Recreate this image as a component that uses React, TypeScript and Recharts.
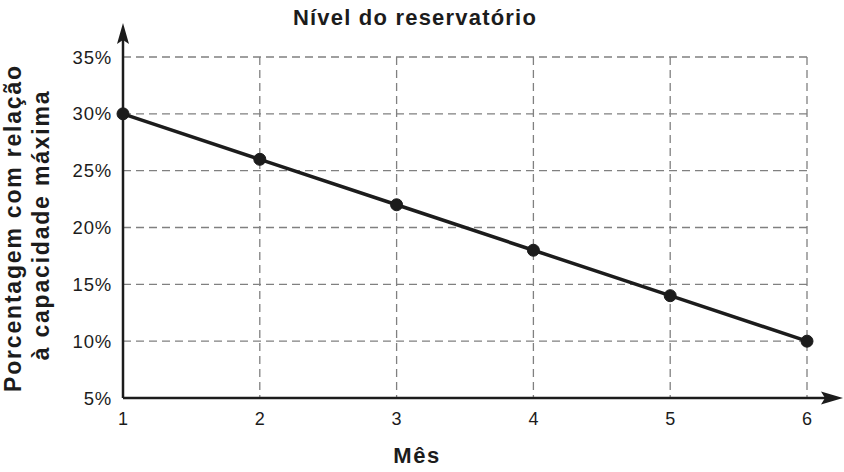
import { LineChart, Line, XAxis, YAxis, CartesianGrid } from 'recharts';

const meses = [1, 2, 3, 4, 5, 6];
const nivel = [30, 26, 22, 18, 14, 10];
const yTicks = [5, 10, 15, 20, 25, 30, 35];

const data = meses.map((mes, i) => ({ mes, nivel: nivel[i] }));

const FONT = '"Liberation Sans", Arial, Helvetica, sans-serif';
const INK = '#1c1c1c';

export default function App() {
  return (
    <div style={{ position: 'absolute', left: 0, top: 0, width: 844, height: 472, background: '#fff', fontFamily: FONT }}>
      <LineChart width={844} height={472} data={data} margin={{ top: 57, right: 37, left: 63, bottom: 44 }}>
        <CartesianGrid stroke="#808080" strokeWidth={1.3} strokeDasharray="8 5" ticks={yTicks} />
        <XAxis
          dataKey="mes"
          type="number"
          domain={[1, 6]}
          ticks={meses}
          height={30}
          tickLine={false}
          axisLine={{ stroke: INK, strokeWidth: 2.5 }}
          tick={{ fontSize: 18, fill: INK, fontFamily: FONT }}
          tickMargin={8}
        />
        <YAxis
          type="number"
          domain={[5, 35]}
          ticks={yTicks}
          width={60}
          tickLine={false}
          axisLine={{ stroke: INK, strokeWidth: 2.5 }}
          tick={{ fontSize: 18.5, fill: INK, fontFamily: FONT, letterSpacing: 0.8 }}
          tickMargin={5}
          tickFormatter={(v) => `${v}%`}
          interval={0}
        />
        <Line
          dataKey="nivel"
          type="linear"
          stroke={INK}
          strokeWidth={3.5}
          dot={{ r: 6, fill: INK, stroke: INK, strokeWidth: 1 }}
          isAnimationActive={false}
        />
      </LineChart>
      <svg width={844} height={472} style={{ position: 'absolute', left: 0, top: 0, pointerEvents: 'none' }}>
        {/* axis extensions with arrow heads */}
        <line x1={123} y1={57} x2={123} y2={40} stroke={INK} strokeWidth={2.5} />
        <polygon points="123,23 117,44 123,40 129,44" fill={INK} />
        <line x1={807} y1={398} x2={825} y2={398} stroke={INK} strokeWidth={2.5} />
        <polygon points="843,398 821,391.5 825,398 821,404.5" fill={INK} />
        <text x={415} y={25} textAnchor="middle" fontSize={22} fontWeight="bold" letterSpacing={1.2} fill={INK} fontFamily={FONT}>
          Nível do reservatório
        </text>
        <text x={417} y={463} textAnchor="middle" fontSize={22} fontWeight="bold" letterSpacing={1.5} fill={INK} fontFamily={FONT}>
          Mês
        </text>
        <text
          transform="translate(21,228) rotate(-90)"
          textAnchor="middle"
          fontSize={23}
          fontWeight="bold"
          letterSpacing={1.8}
          fill={INK}
          fontFamily={FONT}
        >
          Porcentagem com relação
        </text>
        <text
          transform="translate(48.5,225) rotate(-90)"
          textAnchor="middle"
          fontSize={23}
          fontWeight="bold"
          letterSpacing={1.8}
          fill={INK}
          fontFamily={FONT}
        >
          à capacidade máxima
        </text>
      </svg>
    </div>
  );
}
